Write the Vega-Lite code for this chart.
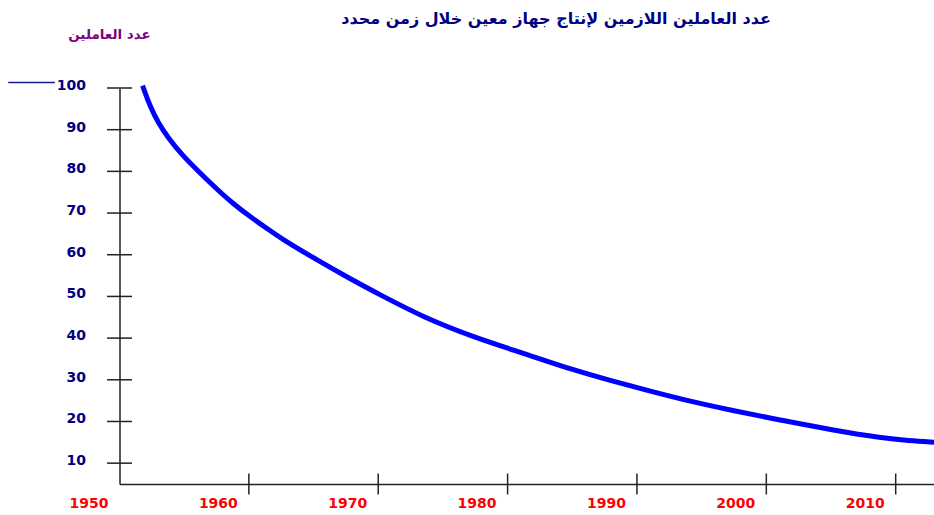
{
  "$schema": "https://vega.github.io/schema/vega-lite/v6.json",
  "autosize": "none",
  "width": 815,
  "height": 396,
  "padding": {"left": 119.5, "top": 88, "right": 0, "bottom": 31},
  "background": "white",
  "title": {
    "text": "عدد العاملين اللازمين لإنتاج جهاز معين خلال زمن محدد",
    "font": "DejaVu Sans",
    "fontSize": 16,
    "fontWeight": "bold",
    "color": "#000080",
    "anchor": "middle",
    "dx": 29,
    "offset": 0
  },
  "datasets": {
    "curve": [
      {"year": 1951.85, "workers": 100},
      {"year": 1952.36, "workers": 95.6},
      {"year": 1953.0, "workers": 91.6},
      {"year": 1953.77, "workers": 88.0},
      {"year": 1954.81, "workers": 84.0},
      {"year": 1956.1, "workers": 80.0},
      {"year": 1957.5, "workers": 75.8},
      {"year": 1958.8, "workers": 72.2},
      {"year": 1960.1, "workers": 69.1},
      {"year": 1961.4, "workers": 66.3},
      {"year": 1962.7, "workers": 63.5},
      {"year": 1964.2, "workers": 60.7},
      {"year": 1967.6, "workers": 54.6},
      {"year": 1970.2, "workers": 50.3},
      {"year": 1973.5, "workers": 45.0},
      {"year": 1977.4, "workers": 40.2},
      {"year": 1981.2, "workers": 36.4},
      {"year": 1985.1, "workers": 32.3},
      {"year": 1988.2, "workers": 29.6},
      {"year": 1991.0, "workers": 27.3},
      {"year": 1993.6, "workers": 25.2},
      {"year": 1997.4, "workers": 22.6},
      {"year": 2001.3, "workers": 20.2},
      {"year": 2005.2, "workers": 17.9},
      {"year": 2009.0, "workers": 16.0},
      {"year": 2011.0, "workers": 15.4},
      {"year": 2013.0, "workers": 15.0}
    ],
    "xticks": [
      {"year": 1960, "base": 5},
      {"year": 1970, "base": 5},
      {"year": 1980, "base": 5},
      {"year": 1990, "base": 5},
      {"year": 2000, "base": 5},
      {"year": 2010, "base": 5}
    ],
    "yticks": [
      {"year": 1950, "workers": 10},
      {"year": 1950, "workers": 20},
      {"year": 1950, "workers": 30},
      {"year": 1950, "workers": 40},
      {"year": 1950, "workers": 50},
      {"year": 1950, "workers": 60},
      {"year": 1950, "workers": 70},
      {"year": 1950, "workers": 80},
      {"year": 1950, "workers": 90},
      {"year": 1950, "workers": 100}
    ],
    "legendline": [
      {"from": 1941.4, "to": 1945.0, "level": 101.3}
    ]
  },
  "layer": [
    {
      "data": {"name": "curve"},
      "mark": {"type": "line", "color": "#0000FF", "strokeWidth": 5, "interpolate": "basis", "strokeCap": "square"},
      "encoding": {
        "x": {
          "field": "year",
          "type": "quantitative",
          "scale": {"domain": [1950, 2013], "nice": false, "zero": false},
          "axis": {
            "values": [1950, 1960, 1970, 1980, 1990, 2000, 2010],
            "format": "d",
            "title": null,
            "grid": false,
            "ticks": false,
            "domainColor": "#222222",
            "domainWidth": 1.5,
            "labelColor": "#FF0000",
            "labelFont": "DejaVu Sans",
            "labelFontWeight": "bold",
            "labelFontSize": 14,
            "labelOffset": -31,
            "labelPadding": 12,
            "labelFlush": false,
            "labelOverlap": false
          }
        },
        "y": {
          "field": "workers",
          "type": "quantitative",
          "scale": {"domain": [5, 100], "nice": false, "zero": false},
          "axis": {
            "values": [10, 20, 30, 40, 50, 60, 70, 80, 90, 100],
            "title": "عدد العاملين",
            "titleAngle": 0,
            "titleX": -10.5,
            "titleY": -54,
            "titleAlign": "center",
            "titleBaseline": "middle",
            "titleColor": "#800080",
            "titleFont": "DejaVu Sans",
            "titleFontWeight": "bold",
            "titleFontSize": 13.5,
            "grid": false,
            "ticks": false,
            "domainColor": "#222222",
            "domainWidth": 1.5,
            "labelColor": "#000080",
            "labelFont": "DejaVu Sans",
            "labelFontWeight": "bold",
            "labelFontSize": 14,
            "labelPadding": 34,
            "labelOffset": -2.5,
            "labelFlush": false,
            "labelOverlap": false
          }
        }
      }
    },
    {
      "data": {"name": "xticks"},
      "mark": {"type": "tick", "orient": "vertical", "size": 21, "thickness": 1.5, "color": "#222222", "opacity": 1},
      "encoding": {
        "x": {"field": "year", "type": "quantitative"},
        "y": {"field": "base", "type": "quantitative"}
      }
    },
    {
      "data": {"name": "yticks"},
      "mark": {"type": "tick", "orient": "horizontal", "size": 25, "thickness": 1.5, "color": "#222222", "opacity": 1},
      "encoding": {
        "x": {"field": "year", "type": "quantitative"},
        "y": {"field": "workers", "type": "quantitative"}
      }
    },
    {
      "data": {"name": "legendline"},
      "mark": {"type": "rule", "color": "#1a1a99", "strokeWidth": 1.5},
      "encoding": {
        "x": {"field": "from", "type": "quantitative"},
        "x2": {"field": "to"},
        "y": {"field": "level", "type": "quantitative"}
      }
    }
  ],
  "config": {
    "view": {"stroke": null}
  }
}
